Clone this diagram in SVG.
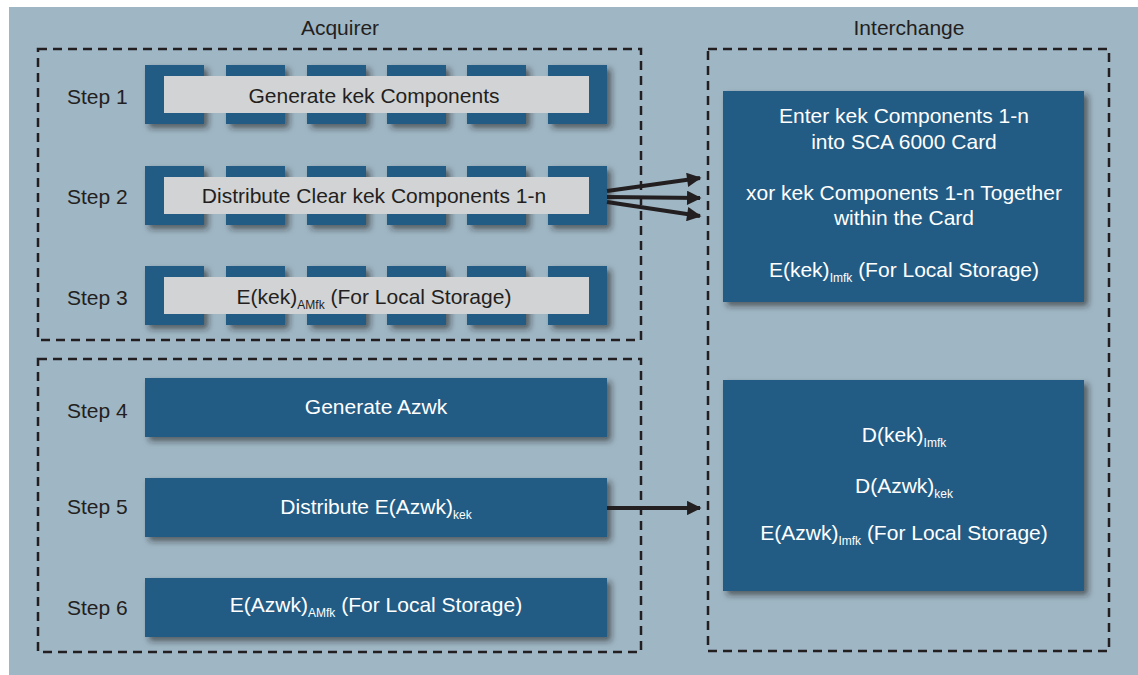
<svg xmlns="http://www.w3.org/2000/svg" width="1138" height="675" viewBox="0 0 1138 675">
<defs>
<style>
.t{font-family:"Liberation Sans",Arial,sans-serif;font-size:21px;fill:#231f20}
.w{font-family:"Liberation Sans",Arial,sans-serif;font-size:21px;fill:#ffffff;text-anchor:middle}
.c{text-anchor:middle}
.sub{font-size:12px}
.blue{fill:#245c85;filter:url(#sh)}
.bar{fill:#d1d3d5}
.dash{fill:none;stroke:#231f20;stroke-width:2.5;stroke-dasharray:9 6}
.conn{stroke:#231f20;stroke-width:4;fill:none}
</style>
<filter id="sh" x="-10%" y="-20%" width="130%" height="150%">
<feDropShadow dx="4" dy="4" stdDeviation="3" flood-color="#1a1a1a" flood-opacity="0.6"/>
</filter>
<marker id="ah" viewBox="0 0 10 10" refX="9" refY="5" markerWidth="4" markerHeight="3.6" orient="auto" markerUnits="strokeWidth">
<path d="M0,0 L10,5 L0,10 Z" fill="#231f20"/>
</marker>
</defs>
<rect x="9" y="7" width="1129" height="668" fill="#9fb6c4"/>
<text class="t c" x="340" y="35">Acquirer</text>
<text class="t c" x="909" y="35">Interchange</text>
<rect class="dash" x="38" y="49" width="603" height="291"/>
<rect class="dash" x="38" y="359" width="603" height="293"/>
<rect class="dash" x="708" y="49" width="401" height="602"/>

<g id="step1">
<text class="t" x="67" y="104">Step 1</text>
<rect class="blue" x="145" y="65" width="59" height="59"/>
<rect class="blue" x="226" y="65" width="59" height="59"/>
<rect class="blue" x="307" y="65" width="59" height="59"/>
<rect class="blue" x="387" y="65" width="59" height="59"/>
<rect class="blue" x="467" y="65" width="59" height="59"/>
<rect class="blue" x="548" y="65" width="59" height="59"/>
<rect class="bar" x="164" y="76" width="425" height="37"/>
<text class="t c" x="374" y="103">Generate kek Components</text>
</g>
<g id="step2">
<text class="t" x="67" y="204">Step 2</text>
<rect class="blue" x="145" y="166" width="59" height="59"/>
<rect class="blue" x="226" y="166" width="59" height="59"/>
<rect class="blue" x="307" y="166" width="59" height="59"/>
<rect class="blue" x="387" y="166" width="59" height="59"/>
<rect class="blue" x="467" y="166" width="59" height="59"/>
<rect class="blue" x="548" y="166" width="59" height="59"/>
<rect class="bar" x="164" y="177" width="425" height="37"/>
<text class="t c" x="374" y="203">Distribute Clear kek Components 1-n</text>
</g>
<g id="step3">
<text class="t" x="67" y="305">Step 3</text>
<rect class="blue" x="145" y="266" width="59" height="59"/>
<rect class="blue" x="226" y="266" width="59" height="59"/>
<rect class="blue" x="307" y="266" width="59" height="59"/>
<rect class="blue" x="387" y="266" width="59" height="59"/>
<rect class="blue" x="467" y="266" width="59" height="59"/>
<rect class="blue" x="548" y="266" width="59" height="59"/>
<rect class="bar" x="164" y="277" width="425" height="37"/>
<text class="t c" x="374" y="304">E(kek)<tspan class="sub" dy="5">AMfk</tspan><tspan dy="-5"> (For Local Storage)</tspan></text>
</g>
<g id="step4">
<text class="t" x="67" y="418">Step 4</text>
<rect class="blue" x="145" y="378" width="462" height="59"/>
<text class="w" x="376" y="414">Generate Azwk</text>
</g>
<g id="step5">
<text class="t" x="67" y="514">Step 5</text>
<rect class="blue" x="145" y="478" width="462" height="59"/>
<text class="w" x="376" y="514">Distribute E(Azwk)<tspan class="sub" dy="5">kek</tspan></text>
</g>
<g id="step6">
<text class="t" x="67" y="615">Step 6</text>
<rect class="blue" x="145" y="578" width="462" height="59"/>
<text class="w" x="376" y="612">E(Azwk)<tspan class="sub" dy="5">AMfk</tspan><tspan dy="-5"> (For Local Storage)</tspan></text>
</g>
<g id="interchange1">
<rect class="blue" x="723" y="91" width="361" height="211"/>
<text class="w" x="904" y="123">Enter kek Components 1-n</text>
<text class="w" x="904" y="149">into SCA 6000 Card</text>
<text class="w" x="904" y="200">xor kek Components 1-n Together</text>
<text class="w" x="904" y="225">within the Card</text>
<text class="w" x="904" y="277">E(kek)<tspan class="sub" dy="5">Imfk</tspan><tspan dy="-5"> (For Local Storage)</tspan></text>
</g>
<g id="interchange2">
<rect class="blue" x="723" y="380" width="361" height="211"/>
<text class="w" x="904" y="442">D(kek)<tspan class="sub" dy="5">Imfk</tspan></text>
<text class="w" x="904" y="493">D(Azwk)<tspan class="sub" dy="5">kek</tspan></text>
<text class="w" x="904" y="540">E(Azwk)<tspan class="sub" dy="5">Imfk</tspan><tspan dy="-5"> (For Local Storage)</tspan></text>
</g>
<g id="connectors">
<line class="conn" x1="607" y1="191" x2="700" y2="178" marker-end="url(#ah)"/>
<line class="conn" x1="607" y1="197" x2="700" y2="198" marker-end="url(#ah)"/>
<line class="conn" x1="607" y1="202" x2="700" y2="216" marker-end="url(#ah)"/>
<line class="conn" x1="607" y1="508" x2="700" y2="508" marker-end="url(#ah)"/>
</g>
</svg>
